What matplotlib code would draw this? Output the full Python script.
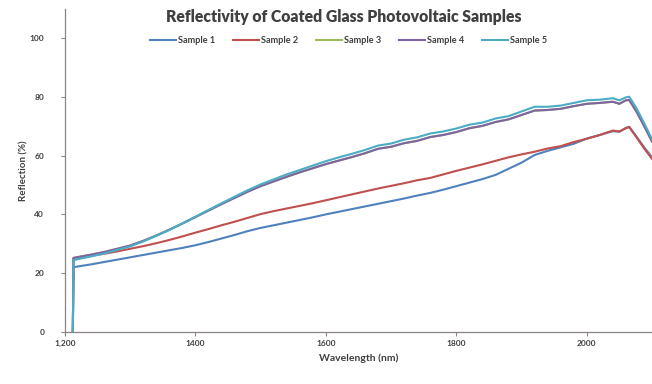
import matplotlib
matplotlib.use("Agg")
import matplotlib.pyplot as plt

plt.rcParams['font.family'] = ['Lato', 'DejaVu Sans']

# Wavelength grid (nm) shared by all samples
wavelength = [1212, 1213, 1220, 1240, 1260, 1280, 1300, 1320, 1340, 1360, 1380,
              1400, 1420, 1440, 1460, 1480, 1500, 1520, 1540, 1560, 1580,
              1600, 1620, 1640, 1660, 1680, 1700, 1720, 1740, 1760, 1780,
              1800, 1820, 1840, 1860, 1880, 1900, 1920, 1940, 1960, 1980,
              2000, 2020, 2040, 2050, 2060, 2065, 2076, 2088, 2100]

sample1 = [0, 22.0, 22.3, 23.0, 23.8, 24.6, 25.4, 26.2, 27.0, 27.8, 28.6,
           29.5, 30.6, 31.8, 33.0, 34.3, 35.4, 36.3, 37.2, 38.1, 39.0,
           40.0, 40.9, 41.8, 42.7, 43.6, 44.5, 45.4, 46.4, 47.3, 48.4,
           49.6, 50.8, 52.0, 53.4, 55.5, 57.6, 60.2, 61.6, 62.8, 64.0,
           65.8, 67.0, 68.3, 68.1, 69.4, 69.8, 66.5, 62.8, 59.4]

sample2 = [0, 25.0, 25.2, 25.9, 26.6, 27.4, 28.3, 29.2, 30.2, 31.3, 32.5,
           33.8, 35.0, 36.3, 37.5, 38.8, 40.1, 41.1, 42.0, 42.9, 43.8,
           44.8, 45.8, 46.8, 47.8, 48.8, 49.7, 50.6, 51.6, 52.4, 53.6,
           54.8, 55.9, 57.0, 58.2, 59.4, 60.4, 61.3, 62.4, 63.2, 64.6,
           65.7, 67.0, 68.5, 68.2, 69.3, 69.7, 66.3, 62.4, 58.9]

sample3 = [0, 25.2, 25.5, 26.3, 27.2, 28.3, 29.4, 31.0, 32.8, 34.8, 36.9,
           39.1, 41.3, 43.5, 45.6, 47.7, 49.6, 51.2, 52.8, 54.3, 55.7,
           57.1, 58.3, 59.5, 60.8, 62.3, 63.0, 64.2, 65.0, 66.3, 67.0,
           68.0, 69.3, 70.1, 71.4, 72.3, 73.8, 75.3, 75.5, 75.9, 76.8,
           77.6, 77.9, 78.3, 77.6, 78.8, 78.9, 75.0, 70.0, 64.8]

sample4 = [0, 25.2, 25.5, 26.3, 27.2, 28.3, 29.4, 31.0, 32.8, 34.8, 36.9,
           39.1, 41.3, 43.5, 45.6, 47.7, 49.6, 51.2, 52.8, 54.3, 55.7,
           57.1, 58.3, 59.5, 60.8, 62.3, 63.0, 64.2, 65.0, 66.3, 67.0,
           68.0, 69.3, 70.1, 71.4, 72.3, 73.8, 75.3, 75.5, 75.9, 76.8,
           77.6, 77.9, 78.3, 77.6, 78.8, 78.9, 75.0, 70.0, 64.8]

sample5 = [0, 24.4, 24.8, 25.7, 26.7, 27.9, 29.1, 30.8, 32.7, 34.7, 36.9,
           39.2, 41.5, 43.8, 46.0, 48.2, 50.2, 51.9, 53.6, 55.1, 56.6,
           58.1, 59.4, 60.6, 61.9, 63.4, 64.1, 65.4, 66.2, 67.5, 68.2,
           69.2, 70.5, 71.2, 72.6, 73.4, 75.0, 76.6, 76.6, 77.0, 77.9,
           78.8, 79.0, 79.5, 78.8, 79.8, 80.0, 76.2, 71.0, 65.6]

series_names = ["Sample 1", "Sample 2", "Sample 3", "Sample 4", "Sample 5"]
series_values = [sample1, sample2, sample3, sample4, sample5]
series_colors = ["#4F81BD", "#C0504D", "#9BBB59", "#8064A2", "#4BACC6"]

x_ticks = [1200, 1400, 1600, 1800, 2000]
x_tick_labels = ["1,200", "1400", "1600", "1800", "2000"]
y_ticks = [0, 20, 40, 60, 80, 100]

fig = plt.figure(figsize=(6.52, 3.84), dpi=100)
ax = fig.add_axes([0.0997, 0.1354, 0.9003, 0.8424])

for name, vals, col in zip(series_names, series_values, series_colors):
    ax.plot(wavelength, vals, color=col, lw=1.5, label=name,
            solid_joinstyle='round')

ax.set_xlim(1200, 2100)
ax.set_ylim(0, 110)
ax.set_xticks(x_ticks)
ax.set_xticklabels(x_tick_labels)
ax.set_yticks(y_ticks)

axis_col = "#8C8480"
for side in ("top", "right"):
    ax.spines[side].set_visible(False)
for side in ("left", "bottom"):
    ax.spines[side].set_color(axis_col)
    ax.spines[side].set_linewidth(0.9)
ax.tick_params(axis='both', colors=axis_col, length=3, width=0.8,
               labelsize=6, labelcolor="#404040")
for lbl in ax.get_xticklabels() + ax.get_yticklabels():
    lbl.set_fontweight('bold')
ax.tick_params(axis='x', pad=3)
ax.tick_params(axis='y', pad=12)

ax.set_xlabel("Wavelength (nm)", fontsize=7.5, fontweight='bold',
              color="#404040", labelpad=4)
ax.set_ylabel("Reflection (%)", fontsize=7, fontweight='bold',
              color="#404040", labelpad=1)

fig.text(0.527, 0.955, "Reflectivity of Coated Glass Photovoltaic Samples",
         ha='center', va='center', fontsize=11.3, fontweight='heavy',
         color="#404040")

leg = fig.legend(loc='center', bbox_to_anchor=(0.535, 0.895), ncol=5,
                 frameon=False, fontsize=6.6, handlelength=2.8,
                 handletextpad=0.3, columnspacing=1.9)
for t in leg.get_texts():
    t.set_fontweight('bold')
    t.set_color("#404040")

fig.savefig("out.png", dpi=100)
